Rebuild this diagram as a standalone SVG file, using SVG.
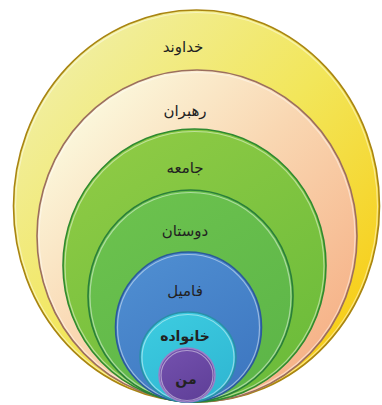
<svg xmlns="http://www.w3.org/2000/svg" width="382" height="405" viewBox="0 0 382 405">
<defs>
<linearGradient id="gY" x1="0.2" y1="0.1" x2="0.9" y2="0.8">
<stop offset="0" stop-color="#f1ee9c"/><stop offset="0.5" stop-color="#f2e65a"/><stop offset="1" stop-color="#f7cf1c"/>
</linearGradient>
<linearGradient id="gP" x1="0.2" y1="0.1" x2="0.9" y2="0.8">
<stop offset="0" stop-color="#fbf6da"/><stop offset="0.45" stop-color="#f9d7b2"/><stop offset="1" stop-color="#f6b48a"/>
</linearGradient>
<linearGradient id="gG" x1="0.2" y1="0" x2="0.8" y2="1">
<stop offset="0" stop-color="#8fcb45"/><stop offset="1" stop-color="#6abb3a"/>
</linearGradient>
<linearGradient id="gD" x1="0.2" y1="0" x2="0.8" y2="1">
<stop offset="0" stop-color="#6cc24e"/><stop offset="1" stop-color="#5cb548"/>
</linearGradient>
<linearGradient id="gB" x1="0.2" y1="0" x2="0.8" y2="1">
<stop offset="0" stop-color="#4f8ed1"/><stop offset="1" stop-color="#3d76c0"/>
</linearGradient>
<linearGradient id="gC" x1="0.2" y1="0" x2="0.8" y2="1">
<stop offset="0" stop-color="#3ccbe0"/><stop offset="1" stop-color="#2fb6d2"/>
</linearGradient>
<linearGradient id="gM" x1="0.2" y1="0" x2="0.8" y2="1">
<stop offset="0" stop-color="#7350ad"/><stop offset="1" stop-color="#5f3f98"/>
</linearGradient>
</defs>
<style>
.ring{stroke-width:1.6}
.hi{fill:none;stroke:#ffffff;stroke-opacity:0.45;stroke-width:1.2}
.lbl{font-family:"DejaVu Sans","Noto Sans",sans-serif;font-size:15px;fill:#222;text-anchor:middle}
.b{font-weight:bold;font-size:14px}
</style>
<g id="node-khodavand">
<ellipse class="ring" cx="196.5" cy="206" rx="183" ry="196" fill="url(#gY)" stroke="#a98512"/>
<ellipse class="hi" cx="196.5" cy="206.5" rx="181" ry="194"/>
<text class="lbl" x="183" y="52">خداوند</text>
</g>
<g id="node-rahbaran">
<ellipse class="ring" cx="197" cy="236" rx="160" ry="166" fill="url(#gP)" stroke="#9c6f5e"/>
<ellipse class="hi" cx="197" cy="236.5" rx="158" ry="164"/>
<text class="lbl" x="185" y="116">رهبران</text>
</g>
<g id="node-jameeh">
<ellipse class="ring" cx="194.5" cy="265.5" rx="131.5" ry="136.5" fill="url(#gG)" stroke="#2f8a30"/>
<ellipse class="hi" cx="194.5" cy="266" rx="129.5" ry="134.5"/>
<text class="lbl" x="185" y="173">جامعه</text>
</g>
<g id="node-doostan">
<ellipse class="ring" cx="190.5" cy="296" rx="102.5" ry="106" fill="url(#gD)" stroke="#2a7f3a"/>
<ellipse class="hi" cx="190.5" cy="296.5" rx="100.5" ry="104"/>
<text class="lbl" x="185" y="236">دوستان</text>
</g>
<g id="node-famil">
<ellipse class="ring" cx="188.5" cy="327" rx="73" ry="75" fill="url(#gB)" stroke="#2b5a9a"/>
<ellipse class="hi" cx="188.5" cy="327.5" rx="71" ry="73"/>
<text class="lbl" x="185" y="296">فامیل</text>
</g>
<g id="node-khanevadeh">
<ellipse class="ring" cx="188" cy="357" rx="48" ry="45" fill="url(#gC)" stroke="#2a8fa8"/>
<ellipse class="hi" cx="188" cy="357.5" rx="46" ry="43"/>
<text class="lbl b" x="185" y="341">خانواده</text>
</g>
<g id="node-man">
<ellipse class="ring" cx="187" cy="375" rx="28" ry="27" fill="url(#gM)" stroke="#9a80c8"/>
<ellipse class="hi" cx="187" cy="375.5" rx="26" ry="25"/>
<text class="lbl b" x="186" y="384">من</text>
</g>
<g id="connectors"/>
</svg>
